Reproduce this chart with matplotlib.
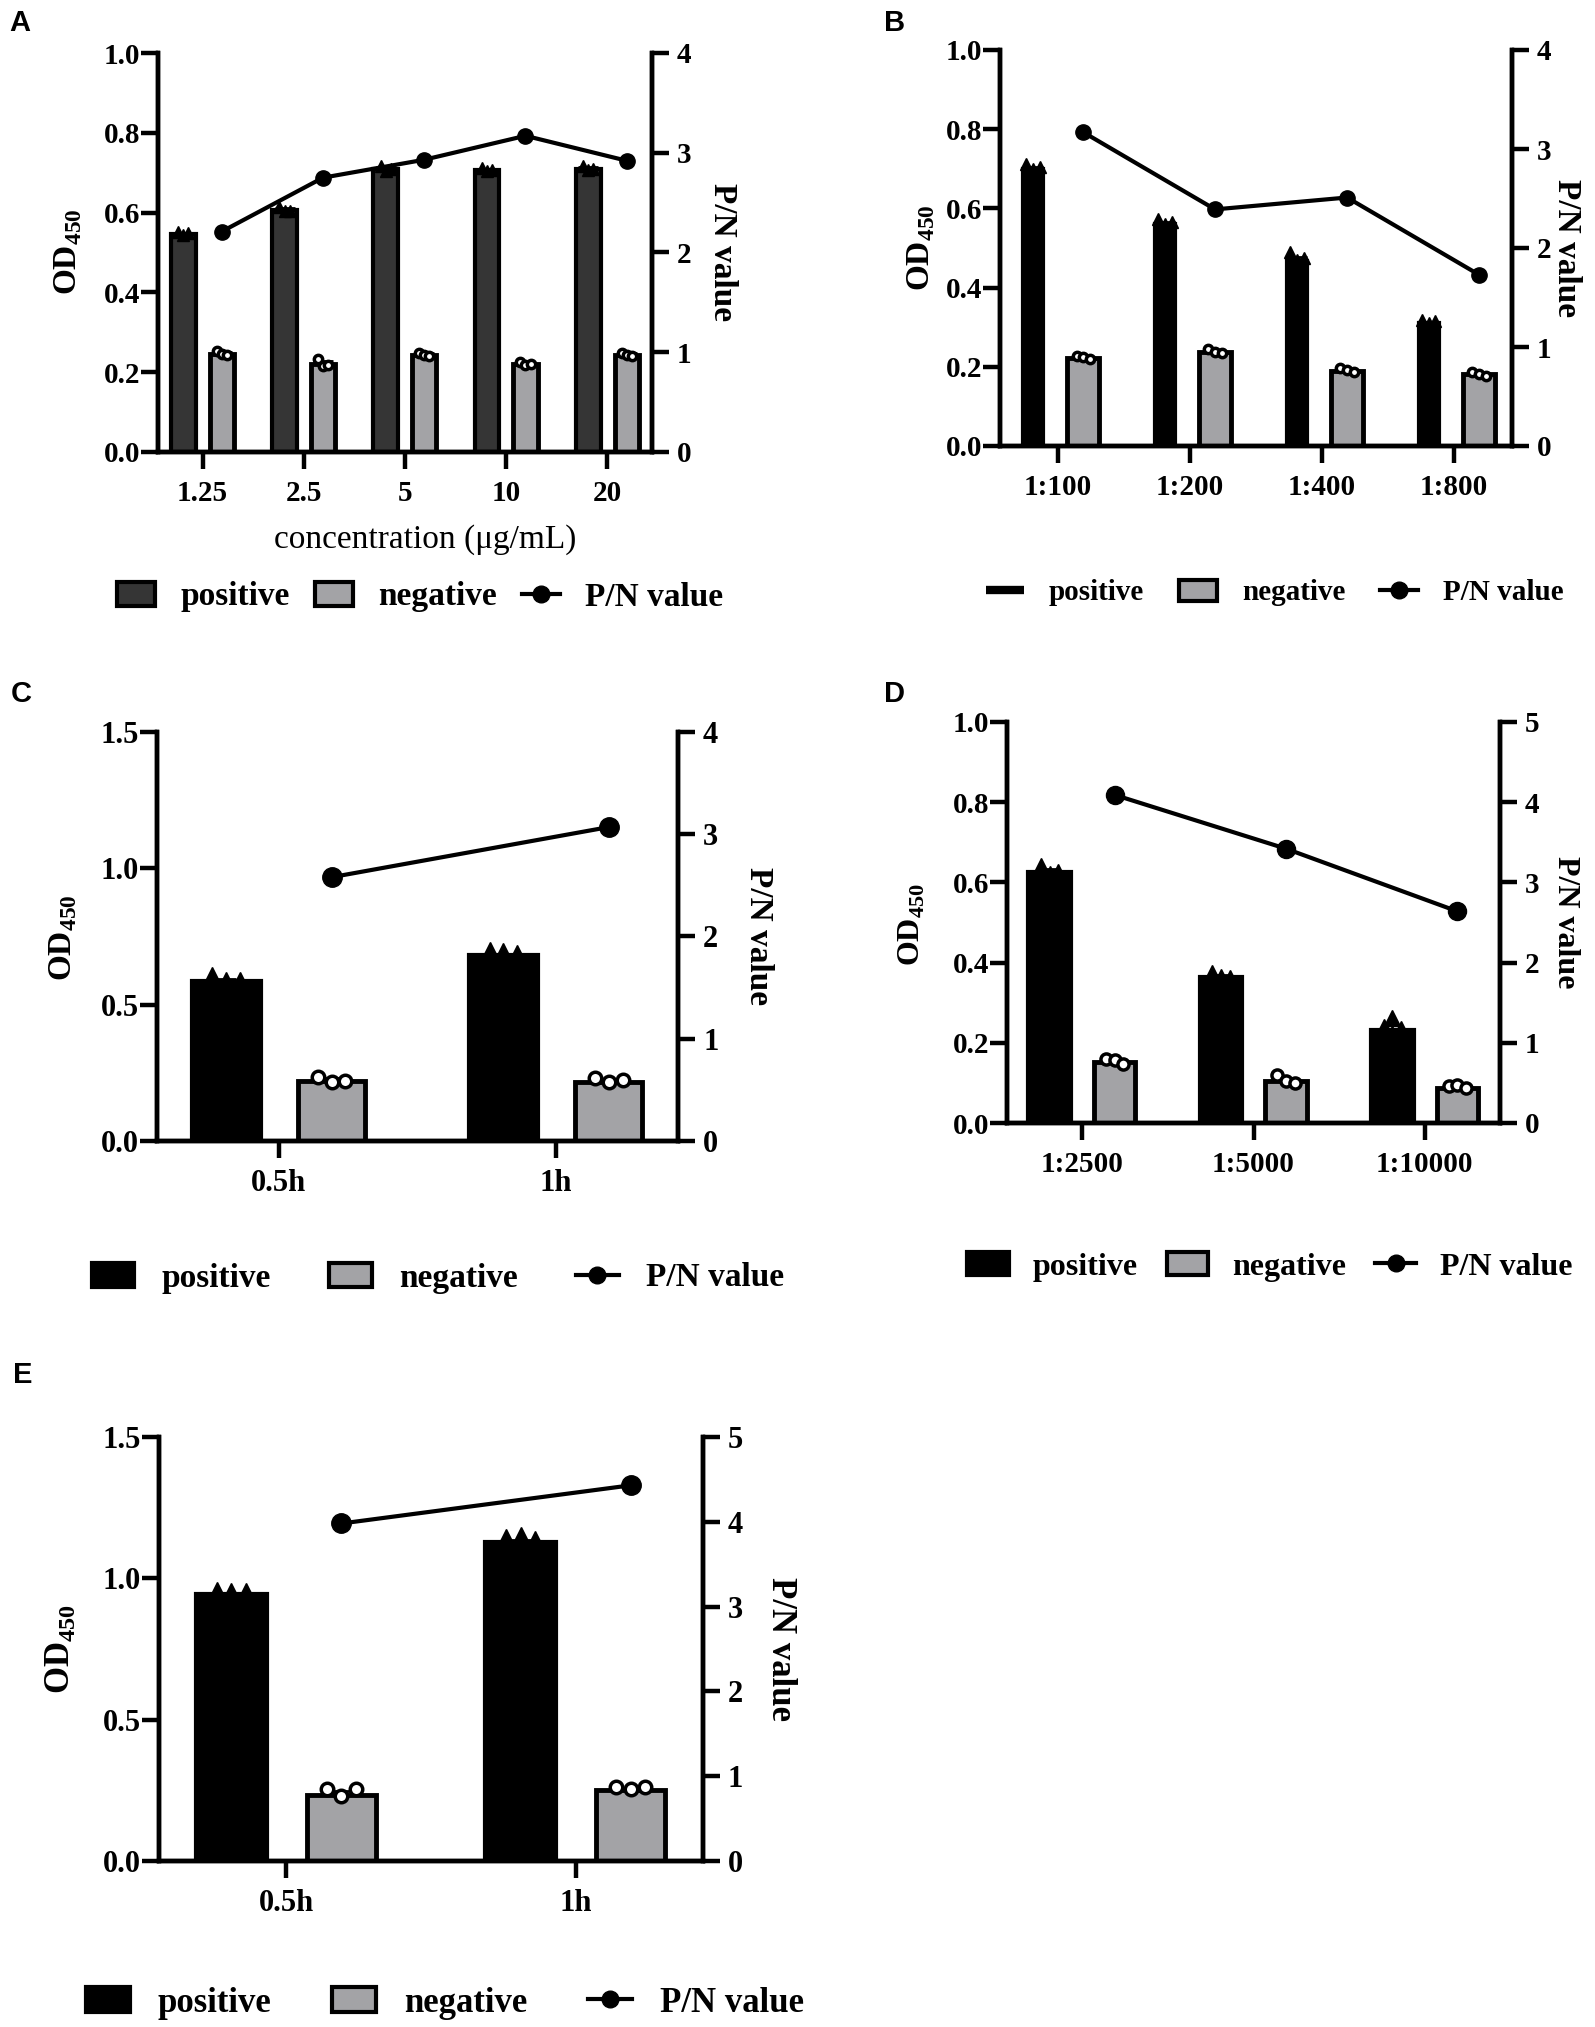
import numpy as np
import matplotlib
matplotlib.use("Agg")
import matplotlib.pyplot as plt
from matplotlib.patches import Patch
from matplotlib.lines import Line2D

plt.rcParams['font.family'] = ['Liberation Serif', 'DejaVu Serif']
plt.rcParams['font.weight'] = 'bold'
plt.rcParams['axes.labelweight'] = 'bold'
plt.rcParams['mathtext.fontset'] = 'custom'
plt.rcParams['mathtext.rm'] = 'Liberation Serif:bold'
plt.rcParams['mathtext.bf'] = 'Liberation Serif:bold'

# ---- data ----
a_cats = ["1.25", "2.5", "5", "10", "20"]
a_pos = [0.547, 0.607, 0.709, 0.707, 0.709]
a_pos_reps = [[0.552, 0.545, 0.548], [0.615, 0.603, 0.605], [0.718, 0.705, 0.71],
              [0.712, 0.705, 0.708], [0.718, 0.706, 0.71]]
a_neg = [0.246, 0.221, 0.244, 0.221, 0.244]
a_neg_reps = [[0.252, 0.245, 0.243], [0.232, 0.216, 0.218], [0.248, 0.244, 0.241],
              [0.226, 0.219, 0.22], [0.249, 0.243, 0.241]]
a_pn = [2.21, 2.75, 2.93, 3.17, 2.92]

b_cats = ["1:100", "1:200", "1:400", "1:800"]
b_pos = [0.70, 0.56, 0.468, 0.31]
b_pos_reps = [[0.712, 0.70, 0.705], [0.572, 0.56, 0.565], [0.49, 0.47, 0.475], [0.318, 0.31, 0.315]]
b_neg = [0.222, 0.237, 0.19, 0.181]
b_neg_reps = [[0.228, 0.224, 0.219], [0.245, 0.238, 0.235], [0.198, 0.193, 0.188], [0.187, 0.183, 0.178]]
b_pn = [3.17, 2.39, 2.51, 1.73]

c_cats = ["0.5h", "1h"]
c_pos = [0.585, 0.683]
c_pos_reps = [[0.61, 0.59, 0.59], [0.70, 0.695, 0.69]]
c_neg = [0.221, 0.217]
c_neg_reps = [[0.235, 0.215, 0.22], [0.232, 0.215, 0.225]]
c_pn = [2.58, 3.07]

d_cats = ["1:2500", "1:5000", "1:10000"]
d_pos = [0.625, 0.364, 0.233]
d_pos_reps = [[0.64, 0.62, 0.625], [0.375, 0.365, 0.362], [0.24, 0.262, 0.235]]
d_neg = [0.153, 0.104, 0.087]
d_neg_reps = [[0.16, 0.158, 0.148], [0.12, 0.105, 0.1], [0.092, 0.095, 0.088]]
d_pn = [4.09, 3.42, 2.64]

e_cats = ["0.5h", "1h"]
e_pos = [0.945, 1.13]
e_pos_reps = [[0.96, 0.955, 0.955], [1.145, 1.155, 1.14]]
e_neg = [0.235, 0.252]
e_neg_reps = [[0.255, 0.23, 0.255], [0.262, 0.255, 0.262]]
e_pn = [3.98, 4.43]

W, H = 1595, 2027
fig = plt.figure(figsize=(W / 100, H / 100), dpi=100)


def axes_px(l, r, t, b):
    return fig.add_axes([l / W, 1 - b / H, (r - l) / W, (b - t) / H])


def panel(box, cats, pos, pos_reps, neg, neg_reps, pn, ylim, yticks, rlim, pos_color,
          neg_color, pos_w=0.245, tick_fs=21, lab_fs=24, od_xy=None, pn_xy=None,
          mk=11, leg=None):
    l, r, t, b = box
    ax = axes_px(l, r, t, b)
    ax2 = ax.twinx()
    x = np.arange(len(cats))
    off = 0.19
    ax.bar(x - off, pos, width=pos_w, color=pos_color, edgecolor=pos_color if pos_color == 'black' else 'black',
           linewidth=3, zorder=2)
    ax.bar(x + off, neg, width=0.24, color=neg_color, edgecolor='black', linewidth=3.5, zorder=2)
    pr = np.array(pos_reps)
    nr = np.array(neg_reps)
    ax.errorbar(x - off, pos, yerr=[np.zeros(len(x)), pr.std(axis=1)], fmt='none', ecolor='black',
                elinewidth=2, capsize=7, capthick=2, zorder=3)
    ax.errorbar(x + off, neg, yerr=[np.zeros(len(x)), nr.std(axis=1)], fmt='none', ecolor='black',
                elinewidth=2, capsize=7, capthick=2, zorder=3)
    jit = np.array([-0.05, 0.0, 0.05])
    for i in range(len(x)):
        ax.plot(x[i] - off + jit, pr[i], '^', color='black', ms=mk, zorder=4, clip_on=False)
        ax.plot(x[i] + off + jit, nr[i], 'o', mfc='white', mec='black', mew=2.5, ms=mk - 3, zorder=4,
                clip_on=False)
    ax2.plot(x + off, pn, '-o', color='black', lw=3, ms=mk + 2, zorder=5)

    ax.set_xlim(-0.44, len(cats) - 1 + 0.44)
    ax.set_ylim(*ylim)
    ax.set_yticks(yticks)
    ax.set_yticklabels(["%.1f" % v for v in yticks])
    ax2.set_ylim(*rlim)
    ax2.set_yticks(range(rlim[0], rlim[1] + 1))
    ax.set_xticks(x)
    ax.set_xticklabels(cats)
    for a in (ax, ax2):
        a.spines['top'].set_visible(False)
        for s in a.spines.values():
            s.set_linewidth(3.2)
    ax.tick_params(axis='y', length=12, width=3.2, pad=1, labelsize=tick_fs)
    ax.tick_params(axis='x', length=12, width=3.2, pad=8, labelsize=tick_fs)
    ax2.tick_params(axis='y', length=12, width=3.2, pad=6, labelsize=tick_fs)

    ax.set_ylabel("OD$_{450}$", fontsize=lab_fs, va='center')
    ax.yaxis.set_label_coords((od_xy[0] - l) / (r - l), (b - od_xy[1]) / (b - t))
    ax2.set_ylabel("P/N value", fontsize=lab_fs, rotation=-90, va='center')
    ax2.yaxis.set_label_coords((pn_xy[0] - l) / (r - l), (b - pn_xy[1]) / (b - t))

    if leg is not None:
        cx, cy, fs, hl, htp, cs = leg
        if pos_w < 0.2:
            h_pos = Line2D([0], [0], color='black', lw=6, solid_capstyle='butt')
        else:
            h_pos = Patch(facecolor=pos_color, edgecolor='black', linewidth=3)
        h_neg = Patch(facecolor=neg_color, edgecolor='black', linewidth=3)
        h_pn = Line2D([0], [0], color='black', lw=3, marker='o', ms=12)
        ax.legend([h_pos, h_neg, h_pn], ["positive", "negative", "P/N value"], ncol=3,
                  loc='center', bbox_to_anchor=(cx / W, 1 - cy / H), bbox_transform=fig.transFigure,
                  frameon=False, fontsize=fs, handlelength=hl, handleheight=0.7,
                  handletextpad=htp, columnspacing=cs, borderaxespad=0, borderpad=0)
    return ax, ax2


neg_gray = '#a3a3a6'

axA, _ = panel((158, 652, 53, 452), a_cats, a_pos, a_pos_reps, a_neg, a_neg_reps, a_pn,
               (0, 1.0), [0, 0.2, 0.4, 0.6, 0.8, 1.0], (0, 4), '#353535', neg_gray,
               od_xy=(68, 252), pn_xy=(722, 252), mk=9,
               leg=(420, 597, 24, 1.15, 0.75, 0.75))
axA.set_xlabel("concentration (μg/mL)", fontsize=24, fontweight='normal', va='center')
axA.xaxis.set_label_coords((425 - 158) / (652 - 158), (452 - 540) / (452 - 53))

panel((1000, 1512, 50, 446), b_cats, b_pos, b_pos_reps, b_neg, b_neg_reps, b_pn,
      (0, 1.0), [0, 0.2, 0.4, 0.6, 0.8, 1.0], (0, 4), 'black', neg_gray, pos_w=0.155,
      od_xy=(921, 248), pn_xy=(1566, 248), mk=9,
      leg=(1275, 593, 21, 1.3, 0.85, 1.2))

panel((157, 678, 732, 1141), c_cats, c_pos, c_pos_reps, c_neg, c_neg_reps, c_pn,
      (0, 1.5), [0, 0.5, 1.0, 1.5], (0, 4), 'black', neg_gray, pos_w=0.247, tick_fs=22,
      od_xy=(63, 938), pn_xy=(758, 936), mk=12,
      leg=(438, 1278, 24, 1.27, 0.82, 1.75))

panel((1007, 1500, 722, 1123), d_cats, d_pos, d_pos_reps, d_neg, d_neg_reps, d_pn,
      (0, 1.0), [0, 0.2, 0.4, 0.6, 0.8, 1.0], (0, 5), 'black', neg_gray, pos_w=0.25,
      od_xy=(912, 924), pn_xy=(1566, 922), lab_fs=23, mk=11,
      leg=(1270, 1267, 23, 1.3, 0.75, 0.9))

panel((159, 703, 1437, 1861), e_cats, e_pos, e_pos_reps, e_neg, e_neg_reps, e_pn,
      (0, 1.5), [0, 0.5, 1.0, 1.5], (0, 5), 'black', neg_gray, pos_w=0.247, tick_fs=22,
      od_xy=(60, 1649), pn_xy=(780, 1649), lab_fs=25, mk=12,
      leg=(445, 2003, 25, 1.27, 0.8, 1.75))

# panel letters
for letter, px, py in [("A", 9, 9), ("B", 884, 9), ("C", 11, 680), ("D", 884, 680), ("E", 13, 1361)]:
    fig.text(px / W, 1 - py / H, letter, family='Liberation Sans', fontweight='bold',
             fontsize=21, ha='left', va='top')

fig.savefig("out.png", dpi=100)
